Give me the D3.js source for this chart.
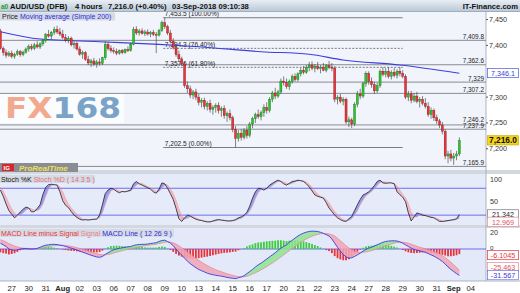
<!DOCTYPE html>
<html>
<head>
<meta charset="utf-8">
<script src="https://d3js.org/d3.v7.min.js"></script>
<style>
  body { margin: 0; background: #fff; }
  svg { display: block; font-family: "Liberation Sans", Arial, sans-serif; }
</style>
</head>
<body>
<svg width="520" height="293"></svg>
<script>
// ---- data ----
const dayLabels = ["27","30","31","Aug","02","03","06","07","08","09","10","13","14","15","16","17","20","21","22","23","24","27","28","29","30","31","Sep","04"];
const boldLabels = ["Aug", "Sep"];

// 4h candles [open, high, low, close], 26 Jul -> 03 Sep
const candles = [
  [7428,7432,7392,7394],[7394,7398,7380,7386],[7386,7392,7376,7381],[7381,7389,7378,7385],
  [7385,7390,7375,7379],[7379,7386,7374,7383],[7383,7392,7380,7388],[7388,7391,7378,7382],[7382,7390,7379,7387],[7387,7396,7384,7393],
  [7393,7402,7388,7398],[7398,7403,7390,7394],[7394,7405,7391,7401],[7401,7408,7394,7397],[7397,7406,7393,7403],[7403,7412,7399,7409],
  [7409,7424,7405,7421],[7421,7430,7415,7418],[7418,7428,7412,7425],[7425,7436,7420,7431],[7431,7438,7422,7426],[7426,7434,7418,7422],
  [7422,7430,7412,7415],[7415,7422,7406,7410],[7410,7418,7404,7414],[7414,7417,7398,7401],[7401,7408,7394,7404],[7404,7407,7390,7393],
  [7393,7398,7380,7383],[7383,7390,7374,7386],[7386,7389,7370,7373],[7373,7380,7362,7366],[7366,7374,7358,7370],[7370,7376,7360,7364],
  [7364,7372,7357,7368],[7368,7375,7361,7365],[7365,7378,7362,7376],[7376,7408,7372,7402],[7402,7407,7390,7394],[7394,7400,7386,7390],
  [7390,7396,7384,7388],[7388,7394,7381,7385],[7385,7392,7382,7390],[7390,7393,7383,7386],[7386,7394,7384,7392],[7392,7398,7387,7390],
  [7390,7405,7388,7402],[7402,7436,7400,7431],[7431,7437,7420,7424],[7424,7432,7419,7428],[7428,7433,7421,7423],[7423,7430,7418,7426],
  [7426,7431,7419,7422],[7422,7428,7416,7425],[7425,7430,7418,7421],[7421,7426,7385,7420],[7420,7432,7417,7429],[7429,7448,7426,7444],
  [7444,7453.5,7432,7436],[7436,7440,7420,7424],[7424,7430,7404,7408],[7408,7414,7392,7396],[7396,7402,7378,7382],[7382,7390,7368,7374],
  [7374,7378,7360,7364],[7364,7368,7318,7322],[7322,7330,7308,7316],[7316,7322,7298,7304],[7304,7314,7296,7310],[7310,7316,7294,7300],
  [7300,7306,7284,7290],[7290,7298,7280,7294],[7294,7299,7276,7282],[7282,7292,7274,7288],[7288,7295,7270,7276],[7276,7284,7266,7280],
  [7280,7288,7270,7284],[7284,7290,7268,7274],[7274,7282,7262,7278],[7278,7284,7258,7264],[7264,7272,7252,7268],[7268,7276,7255,7260],
  [7260,7264,7232,7238],[7238,7244,7202.5,7220],[7220,7236,7214,7230],[7230,7238,7216,7222],[7222,7240,7218,7236],[7236,7244,7220,7226],
  [7226,7252,7222,7248],[7248,7262,7240,7258],[7258,7270,7250,7266],[7266,7276,7258,7262],[7262,7274,7255,7270],[7270,7286,7262,7280],
  [7280,7290,7268,7274],[7274,7300,7270,7296],[7296,7312,7290,7308],[7308,7318,7296,7302],[7302,7314,7298,7310],[7310,7336,7306,7331],
  [7331,7340,7322,7328],[7328,7336,7316,7320],[7320,7334,7314,7330],[7330,7344,7326,7340],[7340,7346,7330,7334],[7334,7348,7330,7345],
  [7345,7356,7340,7352],[7352,7360,7344,7348],[7348,7362,7345,7358],[7358,7368,7350,7362],[7362,7369,7352,7356],[7356,7364,7348,7360],
  [7360,7368,7352,7355],[7355,7362,7346,7358],[7358,7366,7350,7352],[7352,7364,7348,7361],[7361,7370,7354,7358],[7358,7366,7350,7356],
  [7356,7360,7290,7296],[7296,7304,7286,7300],[7300,7306,7288,7292],[7292,7300,7284,7296],[7296,7299,7248,7252],[7252,7262,7242,7256],
  [7256,7260,7240,7248],[7248,7290,7244,7286],[7286,7312,7280,7306],[7306,7316,7296,7302],[7302,7330,7298,7326],[7326,7350,7320,7346],
  [7346,7350,7324,7330],[7330,7338,7318,7324],[7324,7330,7306,7312],[7312,7328,7308,7322],[7322,7354,7318,7350],[7350,7358,7340,7344],
  [7344,7356,7338,7350],[7350,7358,7336,7340],[7340,7352,7334,7348],[7348,7356,7338,7342],[7342,7354,7336,7350],[7350,7358,7340,7346],
  [7346,7352,7336,7340],[7340,7344,7296,7300],[7300,7312,7292,7306],[7306,7312,7288,7294],[7294,7308,7290,7302],[7302,7310,7288,7292],
  [7292,7300,7280,7296],[7296,7302,7284,7288],[7288,7298,7278,7282],[7282,7290,7262,7266],[7266,7280,7258,7274],[7274,7278,7254,7260],
  [7260,7266,7248,7254],[7254,7258,7240,7246],[7246,7252,7228,7234],[7234,7238,7180,7186],[7186,7196,7172,7190],[7190,7198,7176,7182],
  [7182,7192,7168.9,7186],[7186,7196,7178,7190],[7190,7222,7186,7216]
];

// Moving average (Simple 200): [bar, value]
const maPoints = [[0,7426.5],[14,7412.4],[35,7407.2],[56,7402],[70,7397.5],[92,7387.8],[109,7382.8],[121,7371.8],[141,7362],[162,7346.1]];

// horizontal levels drawn across the price panel
const levels = [7409.8, 7362.6, 7329, 7307.2, 7246.2, 7237.9, 7165.9];
const levelLabels = ["7,409.8","7,362.6","7,329","7,307.2","7,246.2","7,237.9","7,165.9"];

// fibonacci retracement
const fibValues = [7453.5, 7394.3, 7357.6, 7202.5];
const fibLabels = ["7,453.5 (100.00%)","7,394.3 (76.40%)","7,357.6 (61.80%)","7,202.5 (0.00%)"];
const fibDashed = [false, true, true, false];
const fibBars = [58, 142];

const priceTicks = [7450, 7400, 7300, 7250, 7200];

const stochK = [
  76,62,45,30,22,14,20,27,33,38, 36,27,28,35,43,66,82,88,89,88,
  87,72,52,42,37,28,20,15,11,9, 10,9,10,11,11,20,43,68,76,80,
  78,73,70,73,72,74,76,90,95,90, 87,84,81,78,72,69,78,92,90,80,
  68,55,35,12,6,14,20,18,14,11, 9,8,6,5,5,7,9,10,9,8,
  7,7,8,10,14,16,20,26,40,58, 72,80,79,76,80,87,91,95,98,95,
  90,87,91,95,96,98,97,95,90,83, 74,65,62,60,58,48,36,28,20,14,
  10,7,6,12,17,30,43,55,65,68, 72,78,86,95,98,92,91,92,92,90,
  72,66,60,50,25,7,16,25,23,20, 19,17,15,14,10,6,6,7,8,9,
  10,12,21.342
];
const stochD = [
  82,74,61,46,34,24,19,20,25,31, 35,34,31,30,34,45,62,78,86,88,
  88,83,72,57,45,36,29,22,16,12, 10,10,10,10,11,14,25,44,62,74,
  78,77,74,72,72,73,74,80,87,91, 91,87,84,81,77,73,73,80,87,87,
  80,68,53,34,18,11,13,17,17,14, 11,9,8,6,5,6,7,9,9,9,
  8,7,7,8,11,13,17,21,29,41, 57,70,77,78,78,81,86,91,95,96,
  94,91,89,91,94,96,97,97,94,89, 82,74,67,62,60,55,47,37,28,21,
  15,10,8,8,12,20,30,43,54,63, 68,73,79,86,93,95,94,92,92,91,
  85,76,66,59,45,27,16,16,21,23, 21,19,17,15,13,10,7,6,7,8,
  9,10,12.969
];

const macdLine = [
  7,5,3,0,-1,-1.5,-1,0,0.5,0.5, 0.3,0,0.2,0.8,2,3.5,4.5,5,5.5,5.6,
  5.3,4.6,4,3,2,1,0,-1.2,-2.5,-3.8, -5,-6.2,-7.4,-8.5,-9.5,-10,-9,-6.5,-4.5,-2.5,
  -1,0,0.8,1.4,2,2.6,3,4.2,5,5.4, 5.6,5.6,6,6.5,7,7.5,9,10.2,10.5,9,
  7,4,0,-4,-7.5,-11,-14.5,-17.5,-20,-22.5, -24.5,-26,-27.5,-29,-30,-30.8,-31.5,-32,-32.5,-33.2,
  -34,-34.6,-35,-35.5,-34.5,-33.5,-32,-29.5,-27,-24.5, -21.5,-19,-17,-14.5,-12,-9.5,-7,-4.5,-1.5,1,
  3,5,8,10.5,13,15.5,17.5,19,20.2,21, 21.4,21.2,21,20,18.8,17.2,15.5,12,7,2,
  -2.5,-6.5,-9.5,-11,-10.5,-9,-7,-5,-2.5,-0.5, 1,2,3.5,5,6.5,8,9,9.5,9.8,9.8,
  9.6,8.5,7,5,3,1,-0.5,-1.5,-2.2,-3, -4,-5.5,-7,-8.5,-10.5,-12.5,-15,-18,-21.5,-24.5,
  -27,-29.5,-31.567
];
const macdSignal = [
  11,10,8.5,6.5,5,3.5,2.5,1.5,1,0.8, 0.6,0.4,0.3,0.4,0.7,1.3,2,2.7,3.4,4,
  4.4,4.6,4.6,4.3,3.8,3.2,2.4,1.6,0.7,-0.3, -1.3,-2.3,-3.4,-4.4,-5.5,-6.4,-7,-7,-6.6,-5.9,
  -4.8,-3.9,-3,-2.1,-1.2,-0.4,0.3,1,1.8,2.5, 3.2,3.8,4.3,4.8,5.3,5.8,6.5,7.3,8,8.4,
  8.2,7.4,5.9,3.9,1.6,-0.9,-3.6,-6.2,-8.7,-11.1, -13.5,-15.7,-17.8,-19.8,-21.6,-23.3,-24.8,-26.1,-27.3,-28.5,
  -29.6,-30.6,-31.5,-32.4,-33,-33.3,-33.2,-32.6,-31.5,-30, -28.5,-26.8,-25,-23.2,-21.2,-19,-16.8,-14.5,-12,-9.5,
  -7,-4.5,-2,0.5,3,5.5,8,10,12,13.8, 15.3,16.5,17.5,18.2,18.5,18.5,18,17,15.5,13,
  10,7,4,1.2,-1,-2.8,-3.8,-4.2,-4,-3.5, -2.8,-2,-1,0,1.2,2.5,3.8,5,6,7,
  7.8,8.2,8.2,7.8,7,5.8,4.5,3.3,2.2,1.2, 0.2,-0.8,-1.9,-3.2,-4.6,-6.2,-8,-10.2,-12.8,-15.8,
  -18.8,-22,-25.463
];
const macdHist = macdLine.map((m, i) => m - macdSignal[i]);

// ---- layout ----
const svg = d3.select("svg");
const plotR = 486;
const priceTop = 12, priceBot = 170;
const stochTop = 174, stochBot = 225;
const macdTop = 228, macdBot = 281;

const x = d3.scaleLinear().domain([0, 166]).range([0.4, 470.7]);
const yP = d3.scaleLinear().domain([7200, 7450]).range([148.8, 19.55]);
const yS = d3.scaleLinear().domain([0, 100]).range([224.1, 179.3]);
const yM = d3.scaleLinear().domain([-20, 20]).range([265.7, 232.3]);

const defs = svg.append("defs");
const grad = defs.append("linearGradient").attr("id", "tbar").attr("x1", 0).attr("y1", 0).attr("x2", 0).attr("y2", 1);
grad.append("stop").attr("offset", "0%").attr("stop-color", "#e8eef4");
grad.append("stop").attr("offset", "100%").attr("stop-color", "#b9c7d6");
function clip(id, y0, y1) {
  defs.append("clipPath").attr("id", id).append("rect").attr("x", 0).attr("y", y0).attr("width", plotR).attr("height", y1 - y0);
}
clip("cp", priceTop, priceBot);
clip("cs", stochTop, stochBot);
clip("cm", macdTop, macdBot);

svg.append("rect").attr("width", 520).attr("height", 293).attr("fill", "#fff");

// title bar
svg.append("rect").attr("width", 520).attr("height", 11.5).attr("fill", "url(#tbar)");
svg.append("line").attr("x1", 0).attr("x2", 520).attr("y1", 11.5).attr("y2", 11.5).attr("stroke", "#8fa0b3").attr("stroke-width", 0.8);
svg.append("text").attr("x", 1).attr("y", 8.5).attr("font-size", 6.5).attr("font-weight", "bold").attr("fill", "#1aa31a").text("a0");
const titleParts = [["AUD/USD (DFB)", 10], ["4 hours", 75], ["7,216.0 (+0.40%)", 108], ["03-Sep-2018 09:10:38", 172]];
svg.selectAll(".tt").data(titleParts).enter().append("text")
  .attr("x", d => d[1]).attr("y", 8.6).attr("font-size", 7.6).attr("font-weight", "bold").attr("fill", "#111")
  .text(d => d[0]);
svg.append("text").attr("x", 518).attr("y", 8.6).attr("text-anchor", "end").attr("font-size", 7.6)
  .attr("font-weight", "bold").attr("fill", "#111").text("IT-Finance.com");

// panel backgrounds
svg.append("rect").attr("x", 0).attr("y", priceTop).attr("width", plotR).attr("height", priceBot - priceTop).attr("fill", "#f1f4fb");
svg.append("rect").attr("x", 0).attr("y", stochTop).attr("width", plotR).attr("height", stochBot - stochTop).attr("fill", "#e5ebf9");
svg.append("rect").attr("x", 0).attr("y", macdTop).attr("width", plotR).attr("height", macdBot - macdTop).attr("fill", "#e3e9f8");
// separators
[[170, 174], [225, 228]].forEach(s => {
  svg.append("rect").attr("x", 0).attr("y", s[0]).attr("width", 520).attr("height", s[1] - s[0]).attr("fill", "#d3d8e0");
});
svg.append("line").attr("x1", plotR).attr("x2", plotR).attr("y1", priceTop).attr("y2", macdBot).attr("stroke", "#9aa4b4").attr("stroke-width", 0.8);
svg.append("line").attr("x1", 0).attr("x2", 520).attr("y1", macdBot).attr("y2", macdBot).attr("stroke", "#9aa4b4").attr("stroke-width", 0.8);

// ---- price panel ----
const gp = svg.append("g").attr("clip-path", "url(#cp)");

// watermark
gp.append("rect").attr("x", 0).attr("y", 93).attr("width", 124).attr("height", 30).attr("fill", "#fbfcfe");
const wm = gp.append("text").attr("x", 5).attr("y", 118).attr("font-size", 28).attr("font-weight", "bold")
  .attr("font-family", "'DejaVu Sans', sans-serif").attr("textLength", 116).attr("lengthAdjust", "spacingAndGlyphs");
wm.append("tspan").attr("fill", "#f2a98e").text("FX");
wm.append("tspan").attr("fill", "#7aa3c8").text("168");

// levels
gp.selectAll(".lvl").data(levels).enter().append("line")
  .attr("x1", 0).attr("x2", plotR).attr("y1", d => yP(d)).attr("y2", d => yP(d))
  .attr("stroke", "#7d7f86").attr("stroke-width", 0.9);
gp.selectAll(".lvlt").data(levels).enter().append("text")
  .attr("x", 484).attr("y", (d, i) => yP(d) - (levelLabels[i] === "7,246.2" ? 3 : 1.3))
  .attr("text-anchor", "end").attr("font-size", 6.4).attr("fill", "#222")
  .text((d, i) => levelLabels[i]);

// fibonacci
gp.selectAll(".fib").data(fibValues).enter().append("line")
  .attr("x1", x(fibBars[0]) - 1.5).attr("x2", x(fibBars[1]))
  .attr("y1", d => yP(d)).attr("y2", d => yP(d))
  .attr("stroke", "#6d6f76").attr("stroke-width", 0.9)
  .attr("stroke-dasharray", (d, i) => fibDashed[i] ? "2,1.5" : null);
gp.selectAll(".fibt").data(fibValues).enter().append("text")
  .attr("x", x(fibBars[0])).attr("y", d => yP(d) - 1.8).attr("font-size", 6.6).attr("fill", "#222")
  .text((d, i) => fibLabels[i]);

// moving average
gp.append("path").datum(maPoints)
  .attr("fill", "none").attr("stroke", "#3b3fe0").attr("stroke-width", 1.1)
  .attr("d", d3.line().x(d => x(d[0])).y(d => yP(d[1])).curve(d3.curveMonotoneX));

// candles
const cg = gp.selectAll(".c").data(candles).enter().append("g");
cg.append("line")
  .attr("x1", (d, i) => x(i)).attr("x2", (d, i) => x(i))
  .attr("y1", d => yP(d[1])).attr("y2", d => yP(d[2]))
  .attr("stroke", "#333").attr("stroke-width", 0.6);
cg.append("rect")
  .attr("x", (d, i) => x(i) - 1.05).attr("width", 2.1)
  .attr("y", d => yP(Math.max(d[0], d[3])))
  .attr("height", d => Math.max(0.8, Math.abs(yP(d[0]) - yP(d[3]))))
  .attr("fill", d => d[3] >= d[0] ? "#2fc12f" : "#e8333a")
  .attr("stroke", d => d[3] >= d[0] ? "#1c6b1c" : "#7a1a1a").attr("stroke-width", 0.35);

// header
svg.append("rect").attr("x", 0).attr("y", 12.5).attr("width", 115).attr("height", 8).attr("fill", "#d6dae2");
const hp = svg.append("text").attr("x", 2).attr("y", 19).attr("font-size", 7);
hp.append("tspan").attr("fill", "#222").text("Price ");
hp.append("tspan").attr("fill", "#2b2bdd").text("Moving average (Simple 200)");

// price axis
svg.selectAll(".pt").data(priceTicks).enter().append("text")
  .attr("x", 489).attr("y", d => yP(d) + 2.5).attr("font-size", 7.2).attr("fill", "#333")
  .text(d => d3.format(",")(d));
svg.selectAll(".ptk").data(priceTicks).enter().append("line")
  .attr("x1", plotR).attr("x2", plotR + 2).attr("y1", d => yP(d)).attr("y2", d => yP(d)).attr("stroke", "#555");

function valueBox(v, y, txt, o) {
  svg.append("rect").attr("x", 487.5).attr("y", y(v) - 4.8).attr("width", 31).attr("height", 9.2)
    .attr("fill", o.fill).attr("stroke", o.stroke).attr("stroke-width", 0.7);
  svg.append("text").attr("x", 503).attr("y", y(v) + 2.6).attr("text-anchor", "middle")
    .attr("font-size", o.size || 7.2).attr("font-weight", o.bold ? "bold" : null).attr("fill", o.color).text(txt);
}
valueBox(7346.1, yP, "7,346.1", { fill: "#fff", stroke: "#4a5ad8", color: "#3a3ad8" });
valueBox(7216.0, yP, "7,216.0", { fill: "#f5d51a", stroke: "#c9a900", color: "#111", bold: true, size: 8.4 });

// ProRealTime logo
svg.append("rect").attr("x", 0).attr("y", 163).attr("width", 78).attr("height", 9).attr("fill", "#8a8d93");
svg.append("rect").attr("x", 2).attr("y", 164).attr("width", 12).attr("height", 7).attr("fill", "#d8262c");
svg.append("text").attr("x", 3.5).attr("y", 170).attr("font-size", 6).attr("font-weight", "bold").attr("fill", "#fff").text("IG");
svg.append("text").attr("x", 19).attr("y", 170.5).attr("font-size", 8).attr("font-style", "italic").attr("font-weight", "bold")
  .attr("fill", "#f2e052").text("ProRealTime");

// ---- stochastic panel ----
const gs = svg.append("g").attr("clip-path", "url(#cs)");
const idx = d3.range(stochK.length);
gs.append("path").datum(idx).attr("fill", "#8e8fe8").attr("opacity", 0.85)
  .attr("d", d3.area().x(i => x(i)).y0(i => yS(stochD[i])).y1(i => yS(Math.max(stochK[i], stochD[i]))));
gs.append("path").datum(idx).attr("fill", "#f1b3bd").attr("opacity", 0.9)
  .attr("d", d3.area().x(i => x(i)).y0(i => yS(stochD[i])).y1(i => yS(Math.min(stochK[i], stochD[i]))));
[80, 20].forEach(v => {
  gs.append("line").attr("x1", 0).attr("x2", plotR).attr("y1", yS(v)).attr("y2", yS(v)).attr("stroke", "#6d6df0").attr("stroke-width", 1);
});
gs.append("path").datum(stochD).attr("fill", "none").attr("stroke", "#e6a1ac").attr("stroke-width", 0.6)
  .attr("d", d3.line().x((d, i) => x(i)).y(d => yS(d)));
gs.append("path").datum(stochK).attr("fill", "none").attr("stroke", "#1d1d2a").attr("stroke-width", 0.8)
  .attr("d", d3.line().x((d, i) => x(i)).y(d => yS(d)));

svg.append("rect").attr("x", 0).attr("y", 175).attr("width", 95).attr("height", 8).attr("fill", "#d6dae2");
const hs = svg.append("text").attr("x", 1).attr("y", 181.5).attr("font-size", 7);
hs.append("tspan").attr("fill", "#111").text("Stoch %K ");
hs.append("tspan").attr("fill", "#e0707e").text("Stoch %D ( 14 3 5 )");

svg.selectAll(".st").data([100, 50]).enter().append("text")
  .attr("x", 490).attr("y", d => yS(d) + 2.5).attr("font-size", 7.2).attr("fill", "#333").text(d => d);
valueBox(21.342, yS, "21.342", { fill: "#fff", stroke: "#777", color: "#222" });
valueBox(12.969 - 8.2, yS, "12.969", { fill: "#fff", stroke: "#e48a96", color: "#e0505e" });

// ---- MACD panel ----
const gm = svg.append("g").attr("clip-path", "url(#cm)");
gm.append("line").attr("x1", 0).attr("x2", plotR).attr("y1", yM(0)).attr("y2", yM(0)).attr("stroke", "#6d6df0").attr("stroke-width", 1);
gm.selectAll(".h").data(macdHist).enter().append("rect")
  .attr("x", (d, i) => x(i) - 0.9).attr("width", 1.8)
  .attr("y", d => Math.min(yM(0), yM(d))).attr("height", d => Math.abs(yM(d) - yM(0)))
  .attr("fill", d => d >= 0 ? "#3ccd3c" : "#e8333a");
gm.append("path").datum(idx).attr("fill", "#8fe38f").attr("opacity", 0.85)
  .attr("d", d3.area().x(i => x(i)).y0(i => yM(macdSignal[i])).y1(i => yM(Math.max(macdLine[i], macdSignal[i]))));
gm.append("path").datum(idx).attr("fill", "#f0a6b4").attr("opacity", 0.85)
  .attr("d", d3.area().x(i => x(i)).y0(i => yM(macdSignal[i])).y1(i => yM(Math.min(macdLine[i], macdSignal[i]))));
gm.append("path").datum(macdSignal).attr("fill", "none").attr("stroke", "#e9818f").attr("stroke-width", 0.7)
  .attr("d", d3.line().x((d, i) => x(i)).y(d => yM(d)));
gm.append("path").datum(macdLine).attr("fill", "none").attr("stroke", "#3a3ae6").attr("stroke-width", 0.9)
  .attr("d", d3.line().x((d, i) => x(i)).y(d => yM(d)));

svg.append("rect").attr("x", 0).attr("y", 229).attr("width", 174).attr("height", 8).attr("fill", "#d6dae2");
const hm = svg.append("text").attr("x", 1).attr("y", 235.5).attr("font-size", 7);
hm.append("tspan").attr("fill", "#e8333a").text("MACD Line minus Signal ");
hm.append("tspan").attr("fill", "#e9818f").text("Signal ");
hm.append("tspan").attr("fill", "#2b2bdd").text("MACD Line ( 12 26 9 )");

svg.selectAll(".mt").data([20, 0]).enter().append("text")
  .attr("x", 490).attr("y", d => yM(d) + (d === 0 ? 0.5 : 2.5)).attr("font-size", d => d === 0 ? 6.2 : 7.2)
  .attr("fill", "#333").text(d => d);
valueBox(-6.104 - 1.4, yM, "-6.1045", { fill: "#fff", stroke: "#e8333a", color: "#e8333a" });
valueBox(-25.463 + 3.5, yM, "-25.463", { fill: "#fff", stroke: "#e48a96", color: "#e0505e" });
valueBox(-31.567, yM, "-31.567", { fill: "#fff", stroke: "#6b6be0", color: "#3a3ad8" });

// ---- x axis ----
svg.selectAll(".xl").data(dayLabels).enter().append("text")
  .attr("x", (d, i) => x(4 + i * 6)).attr("y", 290.5).attr("text-anchor", "middle")
  .attr("font-size", 7.6).attr("font-weight", d => boldLabels.includes(d) ? "bold" : null)
  .attr("fill", "#222").text(d => d);
</script>
</body>
</html>
